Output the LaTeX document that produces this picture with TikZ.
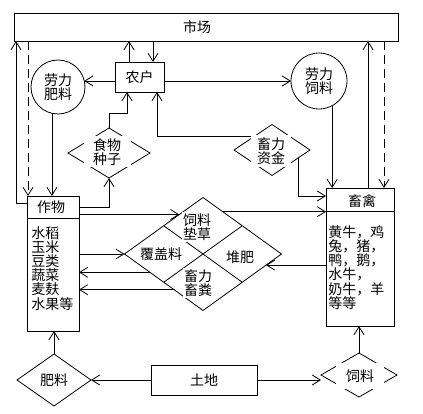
\documentclass[tikz,border=0pt]{standalone}
\usepackage{fontspec}
\setmainfont{Noto Sans CJK SC}
\usepackage{tikz}
\usetikzlibrary{arrows.meta,shapes.geometric,calc}

\begin{document}
\begin{tikzpicture}[x=1pt,y=-1pt,line width=0.8pt,
  >={Straight Barb[length=8pt,width=10pt]},
  font=\fontsize{14}{14.2}\selectfont,
  box/.style={draw,rectangle,inner sep=0pt,outer sep=0pt},
  ring/.style={draw,circle,inner sep=0pt,outer sep=0pt,align=center},
  dia/.style={draw,diamond,inner sep=0pt,outer sep=0pt},
  mask/.style={fill=white,inner sep=1pt,outer sep=0pt,align=center},
  list/.style={inner sep=0pt,align=left,anchor=north west},
  dashline/.style={dash pattern=on 9pt off 5pt}]
  \path[fill=white] (0,0) rectangle (423,414);
  % boxes
  \node[box,minimum width=384pt,minimum height=28pt] (market) at (206,27) {};
  \node (markettxt) at (197,27) {市场};
  \node[box,minimum width=49pt,minimum height=30pt] (farm) at (139.5,77) {农户};
  \node[box,minimum width=52pt,minimum height=135pt] (crop) at (53,263.5) {};
  \node[box,minimum width=68pt,minimum height=138pt] (stock) at (360,257) {};
  \node[box,minimum width=106pt,minimum height=30pt] (land) at (204,380) {土地};
  \draw[line width=1.6pt] (crop.west |- 0,218.5) -- (crop.east |- 0,218.5);
  \draw (stock.west |- 0,211) -- (stock.east |- 0,211);
  \node (croptitle) at (51,207) {作物};
  \node (stocktitle) at (362,201) {畜禽};
  \node[list] (croplist) at (31,226) {水稻\\玉米\\豆类\\蔬菜\\麦麸\\水果等};
  \node[list] (stocklist) at (328,225) {黄牛，鸡\\兔，猪，\\鸭，鹅，\\水牛，\\奶牛，羊\\等等};
  % circles
  \node[ring,minimum size=54pt] (lfert) at (58,87) {劳力\\肥料};
  \node[ring,minimum size=56pt] (lfeed) at (319,81) {劳力\\饲料};
  % diamonds
  \node[dia,minimum width=82pt,minimum height=50pt] (seed) at (109,153) {};
  \node[mask,minimum width=47pt,minimum height=31pt] (seedtxt) at (107,152) {食物\\种子};
  \node[dia,minimum width=76pt,minimum height=51pt] (capital) at (272,150) {};
  \node[mask,minimum width=40pt,minimum height=32pt] (captxt) at (271,151) {畜力\\资金};
  \node[dia,minimum width=74pt,minimum height=52pt] (fert) at (54,380) {肥料};
  \node[dia,minimum width=76pt,minimum height=44pt] (feed) at (359,375) {};
  \node[mask,minimum width=48pt,minimum height=26pt] (feedtxt) at (360,376) {饲料};
  \node[dia,minimum width=157pt,minimum height=113pt] (big) at (203,254) {};
  \draw ($(big.north)!.5!(big.west)$) -- ($(big.south)!.5!(big.east)$);
  \draw ($(big.north)!.5!(big.east)$) -- ($(big.south)!.5!(big.west)$);
  \node[mask] (fodder) at (197,227) {饲料\\垫草};
  \node[mask] (cover) at (161,254) {覆盖料};
  \node[mask] (dung) at (198,283) {畜力\\畜粪};
  \node[mask] (compost) at (240,257) {堆肥};
  % connectors
  \coordinate (fup) at ([xshift=-10.5pt]farm.north);
  \coordinate (fdown) at ([xshift=13.5pt]farm.north);
  \coordinate (fseed) at ([xshift=-12.5pt]farm.south);
  \coordinate (fcap) at ([xshift=17.5pt]farm.south);
  \coordinate (sup) at ([xshift=8pt]stock.north);
  \coordinate (sdown) at ([xshift=24pt]stock.north);
  \draw[->] (crop.west |- 0,203) -| (market.south -| 16,0);
  \draw[->,dashline] (market.south -| 28,0) -- (crop.north -| 28,0);
  \draw[->] (lfert.257) -- (lfert.257 |- crop.north);
  \draw[->] (farm.west |- lfert.13) -- (lfert.13);
  \draw[->] (farm.east |- lfeed.west) -- (lfeed.west);
  \draw[->] (fup) -- (fup |- market.south);
  \draw[->] (fdown |- market.south) -- (fdown);
  \draw[->] (seed.north) -- ++(0,-15) -| (fseed);
  \draw[->] (crop.east |- 0,207) -| (seed.south);
  \draw[->] (captxt.west |- 0,136) -| (fcap);
  \draw[->] (capital.343) |- (stock.west |- 0,196);
  \draw[->] (lfeed.298) -- (lfeed.298 |- stock.north);
  \draw[->] (sup) -- (sup |- market.south);
  \draw[->,dashline] (sdown |- market.south) -- (sdown);
  \draw[->] (crop.east |- big.west) -- (big.west);
  \draw[->] (big.199) -- (big.199 -| crop.east);
  \draw[->] (big.231) -- (big.231 -| crop.east);
  \draw[->] (big.121 -| crop.east) -- (big.121);
  \draw[->] (big.65) -- (big.65 -| stock.west);
  \draw[->] (big.350.5 -| stock.west) -- (big.350.5);
  \draw[->] (land.west) -- (land.west -| fert.east);
  \draw[->] (land.east) -- (land.east -| feed.west);
  \draw[->] (fert.north) -- (fert.north |- crop.south);
  \draw[->] (feed.north) -- (feed.north |- stock.south);
\end{tikzpicture}
\end{document}
